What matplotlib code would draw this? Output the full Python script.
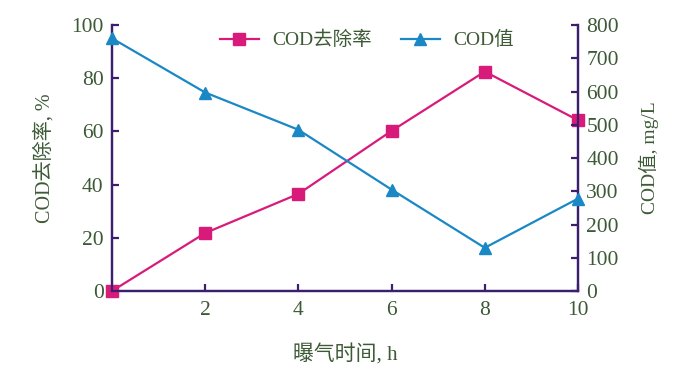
import matplotlib
matplotlib.use("Agg")
import matplotlib.pyplot as plt

hours = [0, 2, 4, 6, 8, 10]
removal_pct = [0, 21.8, 36.5, 60.2, 82.5, 64.2]
cod_value = [760, 597, 485, 305, 130, 278]
x_ticks = [2, 4, 6, 8, 10]
left_ticks = [0, 20, 40, 60, 80, 100]
right_ticks = [0, 100, 200, 300, 400, 500, 600, 700, 800]

PINK = "#d81b7a"
BLUE = "#1a88c4"
SPINE = "#3b1f6e"
TEXT = "#3d5a36"
FAM = ["Liberation Serif", "Noto Sans CJK SC"]

plt.rcParams["font.family"] = FAM

fig = plt.figure(figsize=(6.82, 3.76), dpi=100)
ax = fig.add_axes([0.1642, 0.226, 0.6833, 0.7075])
ax2 = ax.twinx()

l1, = ax.plot(hours, removal_pct, color=PINK, lw=1.6, marker="s", ms=8,
              clip_on=False, zorder=5, label="COD去除率")
l2, = ax2.plot(hours, cod_value, color=BLUE, lw=1.6, marker="^", ms=8,
               clip_on=False, zorder=5, label="COD值")

ax.set_xlim(0, 10)
ax.set_ylim(0, 100)
ax2.set_ylim(0, 800)
ax.set_xticks(x_ticks)
ax.set_yticks(left_ticks)
ax2.set_yticks(right_ticks)

for a in (ax, ax2):
    for s in a.spines.values():
        s.set_color(SPINE)
        s.set_linewidth(1.6)
    a.spines["top"].set_visible(False)
    a.tick_params(direction="in", length=5, width=1.6, color=SPINE,
                  labelcolor=TEXT, labelsize=15.5, pad=6)
ax.tick_params(axis="x", pad=7)

ax.set_xlabel("曝气时间, h", color=TEXT, fontsize=15, labelpad=18)
ax.set_ylabel("COD去除率, %", color=TEXT, fontsize=14.5, labelpad=12)
ax2.set_ylabel("COD值, mg/L", color=TEXT, fontsize=14, labelpad=14)

leg = fig.legend(handles=[l1, l2], loc="center", bbox_to_anchor=(0.538, 0.893),
                 ncol=2, frameon=False, fontsize=14, handlelength=2.0,
                 columnspacing=1.5, handletextpad=0.7)
for t in leg.get_texts():
    t.set_color(TEXT)

fig.savefig("out.png", dpi=100)
